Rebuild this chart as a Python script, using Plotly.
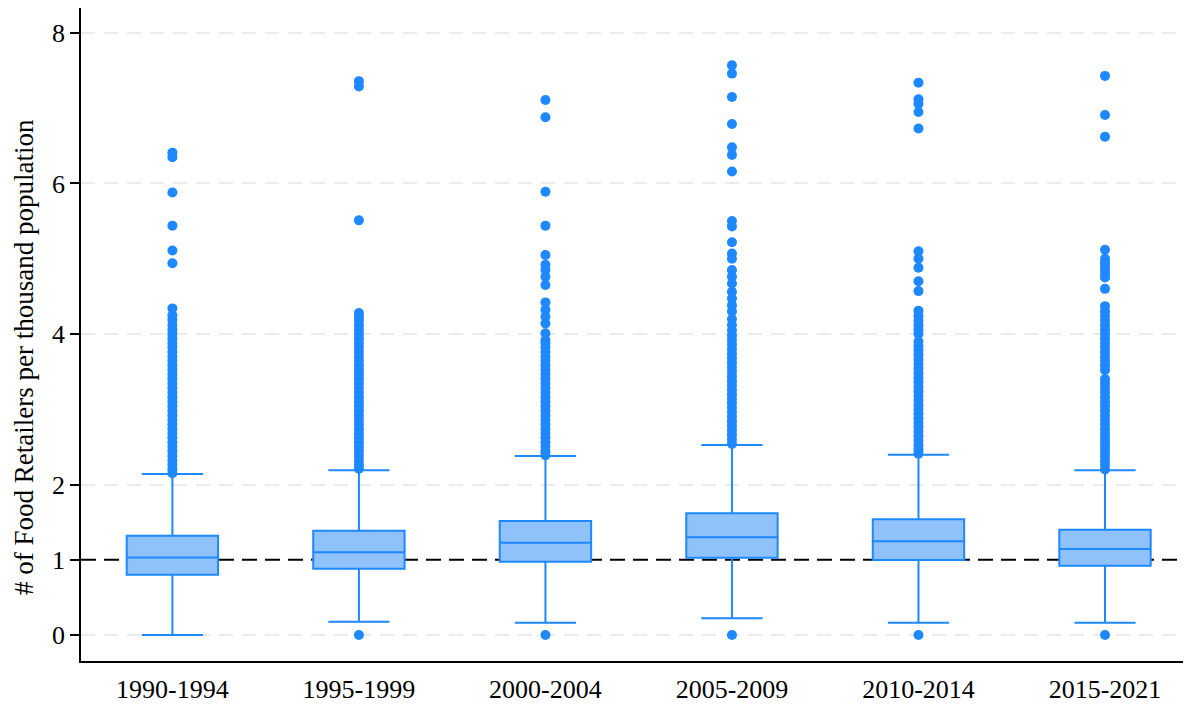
import plotly.graph_objects as go

periods = ["1990-1994", "1995-1999", "2000-2004", "2005-2009", "2010-2014", "2015-2021"]
q1 = [0.80, 0.88, 0.975, 1.025, 0.997, 0.92]
median = [1.03, 1.10, 1.227, 1.298, 1.245, 1.143]
q3 = [1.32, 1.386, 1.515, 1.617, 1.537, 1.40]
lowerfence = [0.0, 0.177, 0.164, 0.222, 0.164, 0.164]
upperfence = [2.14, 2.19, 2.38, 2.525, 2.396, 2.19]

out_1990 = [2.15, 2.2, 2.26, 2.32, 2.38, 2.44, 2.5, 2.56, 2.62, 2.68, 2.74, 2.8, 2.86, 2.92,
            2.98, 3.04, 3.1, 3.16, 3.22, 3.28, 3.34, 3.4, 3.46, 3.52, 3.58, 3.64, 3.7, 3.76,
            3.82, 3.88, 3.94, 4.0, 4.06, 4.12, 4.19, 4.25, 4.34, 4.94, 5.11, 5.44, 5.88, 6.35, 6.41]
out_1995 = [0.0, 2.21, 2.26, 2.32, 2.38, 2.44, 2.5, 2.56, 2.62, 2.68, 2.74, 2.8, 2.86, 2.92,
            2.98, 3.04, 3.1, 3.16, 3.22, 3.28, 3.34, 3.4, 3.46, 3.52, 3.58, 3.64, 3.7, 3.76,
            3.82, 3.88, 3.94, 4.0, 4.06, 4.12, 4.18, 4.23, 4.28, 5.51, 7.29, 7.36]
out_2000 = [0.0, 2.39, 2.44, 2.5, 2.56, 2.62, 2.68, 2.74, 2.8, 2.86, 2.92, 2.98, 3.04, 3.1,
            3.16, 3.22, 3.28, 3.34, 3.4, 3.46, 3.52, 3.58, 3.64, 3.7, 3.76, 3.82, 3.88, 3.92,
            4.01, 4.14, 4.23, 4.32, 4.42, 4.65, 4.76, 4.85, 4.92, 5.05, 5.44, 5.89, 6.88, 7.11]
out_2005 = [0.0, 2.54, 2.6, 2.66, 2.72, 2.78, 2.84, 2.9, 2.96, 3.02, 3.08, 3.14, 3.2, 3.26,
            3.32, 3.38, 3.44, 3.5, 3.56, 3.62, 3.68, 3.74, 3.8, 3.86, 3.92, 3.98, 4.05, 4.12,
            4.2, 4.3, 4.38, 4.47, 4.56, 4.67, 4.76, 4.85, 5.0, 5.07, 5.22, 5.43, 5.5, 6.16,
            6.38, 6.48, 6.79, 7.15, 7.46, 7.57]
out_2010 = [0.0, 2.41, 2.46, 2.52, 2.58, 2.64, 2.7, 2.76, 2.82, 2.88, 2.94, 3.0, 3.06, 3.12,
            3.18, 3.24, 3.3, 3.36, 3.42, 3.48, 3.54, 3.6, 3.66, 3.72, 3.78, 3.84, 3.9, 4.0,
            4.06, 4.12, 4.18, 4.24, 4.31, 4.57, 4.7, 4.88, 5.0, 5.1, 6.73, 6.95, 7.06, 7.12, 7.34]
out_2015 = [0.0, 2.2, 2.26, 2.32, 2.38, 2.44, 2.5, 2.56, 2.62, 2.68, 2.74, 2.8, 2.86, 2.92,
            2.98, 3.04, 3.1, 3.16, 3.22, 3.28, 3.34, 3.4, 3.52, 3.58, 3.64, 3.7, 3.76, 3.82,
            3.88, 3.94, 4.0, 4.06, 4.12, 4.18, 4.24, 4.3, 4.37, 4.6, 4.75, 4.8, 4.85, 4.9,
            4.95, 5.0, 5.12, 6.62, 6.91, 7.43]
outliers = [out_1990, out_1995, out_2000, out_2005, out_2010, out_2015]

ytickvals = [0, 1, 2, 4, 6, 8]
ygridvals = [0, 2, 4, 6, 8]
reference_value = 1
y_title = "# of Food Retailers per thousand population"

blue = "#1E88FF"
fill = "#8FC1FB"
font_family = "Liberation Serif"

fig = go.Figure()

fig.add_trace(go.Box(
    x=periods, q1=q1, median=median, q3=q3,
    lowerfence=lowerfence, upperfence=upperfence,
    boxpoints=False, width=0.49, whiskerwidth=0.67,
    fillcolor=fill, line=dict(color=blue, width=2),
    showlegend=False,
))

for p, o in zip(periods, outliers):
    fig.add_trace(go.Scatter(
        x=[p] * len(o), y=o, mode="markers", yaxis="y2",
        marker=dict(color=blue, size=10, line=dict(width=0)),
        showlegend=False, hoverinfo="y",
    ))

fig.add_shape(type="line", xref="paper", yref="y", x0=0, x1=1,
              y0=reference_value, y1=reference_value, layer="below",
              line=dict(color="black", width=2, dash="15px,8px"))

fig.add_annotation(text=y_title, xref="paper", yref="paper", x=-0.0515, y=0.4655,
                   xanchor="center", yanchor="middle", textangle=-90, showarrow=False,
                   borderpad=0,
                   font=dict(size=27, family=font_family, color="black"))

yrange = [-0.3455, 8.332]
fig.update_layout(
    width=1183, height=698,
    margin=dict(l=73, r=3, t=0, b=45),
    paper_bgcolor="white", plot_bgcolor="white",
    font=dict(family=font_family, size=26, color="black"),
    showlegend=False,
    xaxis=dict(
        type="category", categoryorder="array", categoryarray=periods,
        range=[-0.49, 5.445], showline=True, linecolor="black", linewidth=1.5,
        showgrid=False, ticks="", tickfont=dict(size=26), ticklabelstandoff=4,
        automargin=False,
    ),
    yaxis=dict(
        range=yrange, tickvals=ytickvals, ticktext=[str(v) for v in ytickvals],
        showline=True, linecolor="black", linewidth=1.5,
        ticks="outside", ticklen=9, tickwidth=1.5, tickcolor="black",
        showgrid=False, zeroline=False, tickfont=dict(size=26), automargin=False,
    ),
    yaxis2=dict(
        overlaying="y", matches="y", range=yrange, tickvals=ygridvals,
        showticklabels=False, ticks="", showline=False, zeroline=False,
        showgrid=True, gridcolor="#EBEBEB", gridwidth=2, griddash="14px,9px",
        automargin=False,
    ),
)

fig.write_html("out.html")
